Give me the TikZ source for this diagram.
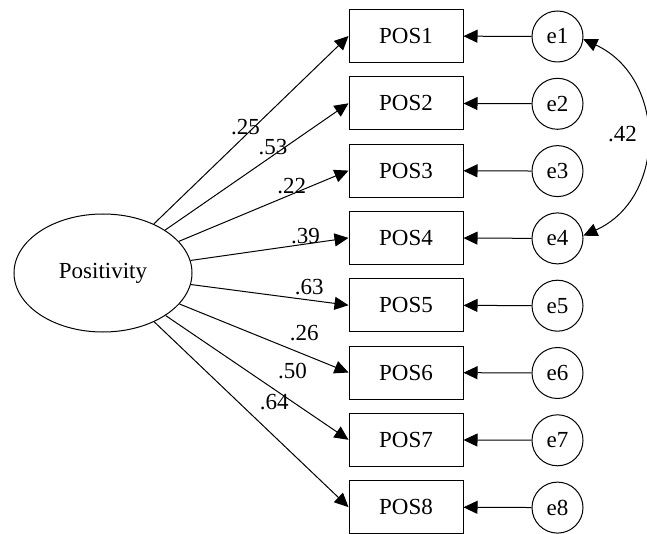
\documentclass[tikz,border=0pt]{standalone}
\usepackage{fontspec}
\setmainfont{Liberation Serif}
\newfontfamily\timesfam{Liberation Serif}
\usetikzlibrary{arrows.meta,shapes.geometric}
\begin{document}
\begin{tikzpicture}[x=1pt,y=-1pt,
  line width=1pt,
  every node/.style={font=\timesfam\fontsize{23}{25}\selectfont},
  arr/.style={-{Triangle[length=14pt,width=13pt]}},
  dblarr/.style={{Triangle[length=14pt,width=13pt]}-{Triangle[length=14pt,width=13pt]}},
  obs/.style={draw,rectangle,minimum width=114pt,minimum height=53pt,inner sep=0pt},
  err/.style={draw,circle,minimum size=51pt,inner sep=0pt},
  lat/.style={draw,ellipse,minimum width=178pt,minimum height=118pt,inner sep=0pt},
  lab/.style={inner sep=0pt}]
\useasboundingbox (0,0) rectangle (647,534);
\node[lat] (pos) at (103,273) {Positivity};
\foreach \i in {1,...,8}{
  \node[obs] (p\i) at (406,{36+67.3*(\i-1)}) {POS\i};
  \node[err] (e\i) at (557.5,{36.5+67.3*(\i-1)}) {e\i};
  \draw[arr] (e\i) -- (p\i);
  \draw[arr] (pos) -- (p\i.west);
}
\node[lab] (l1) at (245.5,126.7) {.25};
\node[lab] (l2) at (273,147.3) {.53};
\node[lab] (l3) at (291.8,185.8) {.22};
\node[lab] (l4) at (305.5,235.8) {.39};
\node[lab] (l5) at (309.2,287) {.63};
\node[lab] (l6) at (304.2,333.3) {.26};
\node[lab] (l7) at (292.5,370.8) {.50};
\node[lab] (l8) at (274.2,401.7) {.64};
\draw[dblarr] (e1.-6) .. controls (667,78) and (667,198) .. (e4.6);
\node[lab] (c14) at (622.5,133.8) {.42};
\end{tikzpicture}
\end{document}
